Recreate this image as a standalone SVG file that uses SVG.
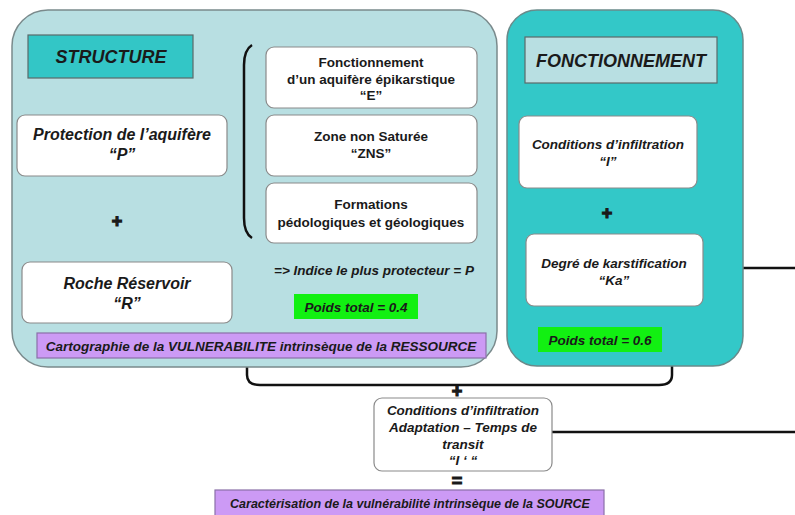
<svg xmlns="http://www.w3.org/2000/svg" width="795" height="515" viewBox="0 0 795 515">
<style>
text{font-family:"Liberation Sans",Arial,sans-serif;font-weight:bold;fill:#1a1a1a;text-anchor:middle}
.it{font-style:italic}
.sym{stroke:#1a1a1a;stroke-width:1.2}
.box{fill:#fff;stroke:#8a8a8a;stroke-width:1.2}
.panelL{fill:#b8dfe2;stroke:#7a8a8c;stroke-width:1.5}
.panelR{fill:#33c8c8;stroke:#6a8a8a;stroke-width:1.5}
.green{fill:#12f012}
.purple{fill:#cc9af5;stroke:#8a70a8;stroke-width:1.2}
.line{fill:none;stroke:#111;stroke-width:2.5}
</style>
<rect width="795" height="515" fill="#fff"/>
<g id="connectors">
<path class="line" d="M247,362 V375 Q247,385 260,385 H659 Q672,385 672,375 V362"/>
<path class="line" d="M457,385 V392"/>
<path class="line" d="M703,268 H795"/>
<path class="line" d="M552,432 H795"/>
</g>
<g id="structure-panel">
<rect class="panelL" x="12" y="10" width="485" height="357" rx="36"/>
<path class="line" d="M252,45 Q244,50 244,65 V218 Q244,233 252,238" stroke-width="2.5"/>
</g>
<g id="fonctionnement-panel">
<rect class="panelR" x="507" y="10" width="236" height="356" rx="30"/>
</g>
<g id="structure-title">
<rect x="28" y="35" width="165" height="43" fill="#33c6c6" stroke="#5a6a6a" stroke-width="1.2"/>
<text class="it" x="111" y="63" font-size="18">STRUCTURE</text>
</g>
<g id="protection">
<rect class="box" x="17" y="115" width="210" height="61" rx="8"/>
<text class="it" x="122" y="140" font-size="16">Protection de l’aquifère</text>
<text class="it" x="122" y="160" font-size="16">“P”</text>
</g>
<text id="plus1" class="sym" x="117" y="227" font-size="18">+</text>
<g id="roche">
<rect class="box" x="22" y="262" width="210" height="61" rx="8"/>
<text class="it" x="127" y="289" font-size="16">Roche Réservoir</text>
<text class="it" x="127" y="309" font-size="16">“R”</text>
</g>
<g id="epikarst">
<rect class="box" x="266" y="47" width="211" height="61" rx="8"/>
<text x="371" y="67" font-size="13.5">Fonctionnement</text>
<text x="371" y="84" font-size="13.5">d’un aquifère épikarstique</text>
<text x="371" y="100" font-size="13.5">“E”</text>
</g>
<g id="zns">
<rect class="box" x="266" y="115" width="211" height="61" rx="8"/>
<text x="371" y="141" font-size="13.5">Zone non Saturée</text>
<text x="371" y="158" font-size="13.5">“ZNS”</text>
</g>
<g id="formations">
<rect class="box" x="266" y="183" width="211" height="60" rx="8"/>
<text x="371" y="209" font-size="13.5">Formations</text>
<text x="371" y="227" font-size="13.5">pédologiques et géologiques</text>
</g>
<text id="indice" class="it" x="374" y="275" font-size="13.5">=&gt; Indice le plus protecteur = P</text>
<g id="poids04">
<rect class="green" x="294" y="294" width="124" height="25"/>
<text class="it" x="356" y="312" font-size="13.5">Poids total = 0.4</text>
</g>
<g id="carto">
<rect class="purple" x="37" y="333" width="449" height="25"/>
<text class="it" x="261" y="351" font-size="13.5">Cartographie de la VULNERABILITE intrinsèque de la RESSOURCE</text>
</g>
<g id="fonctionnement-title">
<rect x="525" y="37" width="192" height="46" fill="#b8dfe2" stroke="#5a6a6a" stroke-width="1.2"/>
<text class="it" x="621" y="67" font-size="18">FONCTIONNEMENT</text>
</g>
<g id="infiltration">
<rect class="box" x="519" y="116" width="178" height="72" rx="8"/>
<text class="it" x="608" y="149" font-size="13.5">Conditions d’infiltration</text>
<text class="it" x="608" y="166" font-size="13.5">“I”</text>
</g>
<text id="plus2" class="sym" x="607" y="219" font-size="18">+</text>
<g id="karst">
<rect class="box" x="526" y="234" width="177" height="72" rx="8"/>
<text class="it" x="614" y="268" font-size="13.5">Degré de karstification</text>
<text class="it" x="614" y="285" font-size="13.5">“Ka”</text>
</g>
<g id="poids06">
<rect class="green" x="538" y="327" width="124" height="25"/>
<text class="it" x="600" y="345" font-size="13.5">Poids total = 0.6</text>
</g>
<text id="plus3" class="sym" x="457" y="397" font-size="18">+</text>
<g id="infiltration2">
<rect class="box" x="374" y="398" width="178" height="73" rx="8"/>
<text class="it" x="463" y="415" font-size="13.5">Conditions d’infiltration</text>
<text class="it" x="463" y="432" font-size="13.5">Adaptation – Temps de</text>
<text class="it" x="463" y="449" font-size="13.5">transit</text>
<text class="it" x="463" y="465" font-size="13.5">“I ‘ “</text>
</g>
<text id="equals" class="sym" x="457" y="487" font-size="18">=</text>
<g id="source">
<rect class="purple" x="215" y="490" width="389" height="28"/>
<text class="it" x="410" y="508" font-size="12.5">Caractérisation de la vulnérabilité intrinsèque de la SOURCE</text>
</g>
</svg>
